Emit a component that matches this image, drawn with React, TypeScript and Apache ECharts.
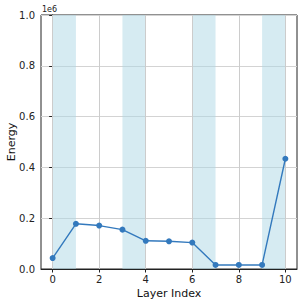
import React, { useEffect, useRef } from "react";
import * as echarts from "echarts";

const layers = [0, 1, 2, 3, 4, 5, 6, 7, 8, 9, 10];
const energy = [43000, 178000, 171000, 155000, 111000, 109000, 104000, 16000, 16000, 16000, 434000];
const xTicks = [0, 2, 4, 6, 8, 10];
const bands: [number, number][] = [[0, 1], [3, 4], [6, 7], [9, 10]];

export default function App() {
  const ref = useRef<HTMLDivElement>(null);
  useEffect(() => {
    const chart = echarts.init(ref.current!, null, { renderer: "svg" });
    const font = "DejaVu Sans";
    chart.setOption({
      animation: false,
      textStyle: { fontFamily: font },
      grid: {
        left: 41, right: 8, top: 15, bottom: 36,
        outerBoundsMode: "none", containLabel: false,
        show: true, borderColor: "#222", borderWidth: 1, backgroundColor: "transparent",
      },
      xAxis: {
        type: "value",
        min: -0.5,
        max: 10.5,
        name: "Layer Index",
        nameLocation: "middle",
        nameGap: 18.5,
        nameMoveOverlap: false,
        nameTextStyle: { fontSize: 11, color: "#111", fontFamily: font },
        axisLine: { show: true, lineStyle: { color: "#222", width: 1 } },
        axisTick: { show: true, customValues: xTicks, length: 3.5, lineStyle: { color: "#222" } },
        axisLabel: { customValues: xTicks, margin: 5, fontSize: 10, color: "#222", fontFamily: font },
        splitLine: { show: false },
      },
      yAxis: {
        type: "value",
        min: 0,
        max: 1e6,
        interval: 2e5,
        name: "Energy",
        nameLocation: "middle",
        nameGap: 24,
        nameMoveOverlap: false,
        nameRotate: 90,
        nameTextStyle: { fontSize: 11, color: "#111", fontFamily: font },
        axisLine: { show: true, lineStyle: { color: "#222", width: 1 } },
        axisTick: { show: true, length: 3.5, lineStyle: { color: "#222" } },
        axisLabel: { margin: 6, fontSize: 10, color: "#222", fontFamily: font, formatter: (v: number) => (v / 1e6).toFixed(1) },
        splitLine: { show: true, lineStyle: { color: "#d3d3d3", width: 1 } },
      },
      graphic: [
        { type: "text", left: 42, top: 5, style: { text: "1e" + Math.round(Math.log10(1e6)), fontSize: 8, fill: "#222", fontFamily: font } },
      ],
      series: [
        {
          type: "line",
          data: layers.map((l, i) => [l, energy[i]]),
          symbol: "circle",
          symbolSize: 6,
          itemStyle: { color: "#3379bd" },
          lineStyle: { color: "#3379bd", width: 1.4 },
          z: 5,
          markArea: {
            silent: true,
            itemStyle: { color: "rgba(173,216,230,0.5)" },
            data: bands.map(([a, b]) => [{ xAxis: a }, { xAxis: b }]),
            z: 1,
          },
          markLine: {
            silent: true,
            symbol: "none",
            label: { show: false },
            lineStyle: { color: "#cccccc", width: 1, type: "solid" },
            data: xTicks.map((t) => ({ xAxis: t })),
          },
        },
      ],
    });
    return () => chart.dispose();
  }, []);
  return <div ref={ref} style={{ position: "absolute", left: 0, top: 0, width: 305, height: 305 }} />;
}
